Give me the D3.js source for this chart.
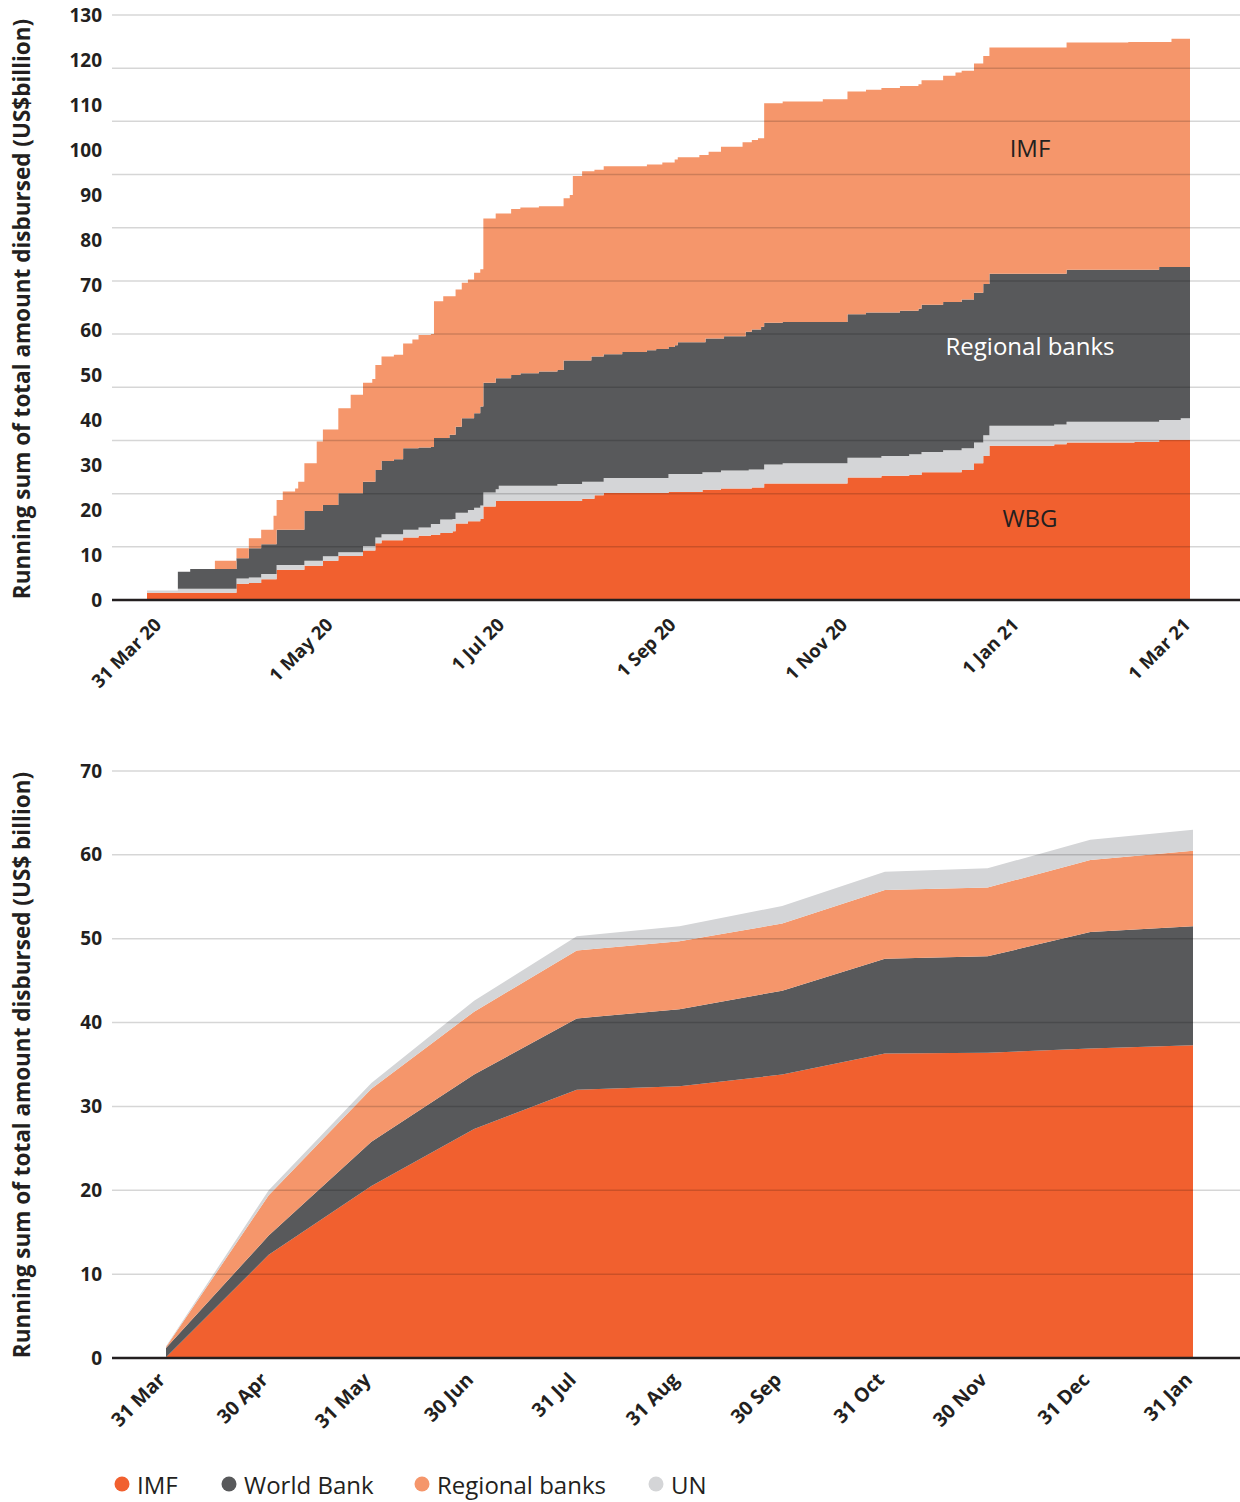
<!DOCTYPE html>
<html>
<head>
<meta charset="utf-8">
<script src="https://cdn.jsdelivr.net/npm/d3@7"></script>
<style>
  body { margin: 0; background: #fff; }
  svg { display: block; }
  text { font-family: "Open Sans", "DejaVu Sans", sans-serif; }
</style>
</head>
<body>
<svg id="chart" width="1240" height="1502"></svg>
<script>
// ---------------- DATA: top chart (running sums, US$ billion) ----------------
const topDates = [
  "2020-03-28","2020-04-07","2020-04-11","2020-04-19","2020-04-26","2020-04-30","2020-05-04","2020-05-08",
  "2020-05-09","2020-05-11","2020-05-15","2020-05-16","2020-05-18","2020-05-22","2020-05-24","2020-05-29",
  "2020-06-02","2020-06-06","2020-06-09","2020-06-10","2020-06-12","2020-06-16","2020-06-19","2020-06-22",
  "2020-06-24","2020-06-28","2020-06-29","2020-07-01","2020-07-02","2020-07-04","2020-07-05","2020-07-06",
  "2020-07-08","2020-07-10","2020-07-12","2020-07-14","2020-07-15","2020-07-19","2020-07-20","2020-07-24",
  "2020-07-27","2020-08-02","2020-08-08","2020-08-10","2020-08-12","2020-08-13","2020-08-16","2020-08-19",
  "2020-08-20","2020-08-23","2020-08-29","2020-09-06","2020-09-09","2020-09-11","2020-09-13","2020-09-15",
  "2020-09-16","2020-09-23","2020-09-24","2020-09-25","2020-09-26","2020-09-30","2020-10-01","2020-10-07",
  "2020-10-08","2020-10-09","2020-10-10","2020-10-12","2020-10-13","2020-10-14","2020-10-20","2020-11-02",
  "2020-11-10","2020-11-16","2020-11-21","2020-11-27","2020-11-30","2020-12-03","2020-12-04","2020-12-11",
  "2020-12-15","2020-12-17","2020-12-21","2020-12-24","2020-12-26","2021-01-16","2021-01-20","2021-02-09",
  "2021-02-11","2021-02-19","2021-02-23","2021-02-26","2021-03-01"
];
const topWBG = [
  1.6,1.6,1.6,1.6,3.6,3.8,4.6,4.6, 6.7,6.7,6.7,6.7,7.6,7.6,8.7,9.8,
  9.8,11.0,11.0,12.6,13.3,13.3,13.9,13.9, 14.3,14.5,14.5,14.9,14.9,14.9,15.3,17.0,
  17.0,17.5,17.5,18.0,20.8,22.0,22.0,22.0, 22.0,22.0,22.0,22.0,22.0,22.0,22.5,22.5,
  23.3,23.8,23.8,23.8,23.8,23.8,24.0,24.0, 24.0,24.0,24.5,24.5,24.5,24.8,24.8,24.8,
  24.8,24.8,25.0,25.0,25.0,25.9,25.9,25.9, 27.2,27.2,27.6,27.6,27.8,27.8,28.4,28.4,
  28.4,28.9,30.4,32.0,34.3,34.6,35.0,35.0, 35.1,35.6,35.6,35.6,35.6
];
const topUN = [
  0.5,0.9,0.9,0.9,1.2,1.2,1.2,1.2, 1.1,1.1,1.1,1.1,1.1,1.1,1.0,0.8,
  0.8,1.0,1.0,1.3,1.3,1.3,1.7,1.7, 1.8,2.4,2.4,3.0,3.0,3.0,2.7,2.4,
  2.4,2.5,3.0,3.0,3.1,2.6,3.4,3.4, 3.4,3.4,3.8,3.8,3.8,3.8,3.8,3.8,
  3.0,3.3,3.3,3.3,3.3,3.3,4.0,4.0, 4.0,4.0,3.9,3.9,3.9,4.0,4.0,4.0,
  4.0,4.2,4.0,4.0,4.0,4.2,4.5,4.5, 4.4,4.4,4.4,4.4,4.6,4.6,4.5,4.9,
  4.9,4.8,4.6,4.6,4.4,4.4,4.6,4.6, 4.5,4.4,4.4,4.8,4.8
];
const topRegional = [
  0.0,3.8,4.4,4.4,4.5,6.5,6.6,6.6, 7.8,7.8,7.8,7.8,11.1,11.1,11.4,13.1,
  13.1,14.3,14.3,15.0,16.3,16.7,18.1,18.1, 17.8,17.1,19.1,18.1,18.1,18.8,18.7,19.1,
  21.0,20.4,21.0,22.0,24.4,24.7,23.9,24.6, 25.0,25.4,25.3,27.4,27.4,27.4,26.9,27.8,
  27.8,27.5,28.0,28.4,28.7,28.7,28.2,28.6, 29.3,29.3,28.9,29.7,29.7,29.3,29.8,29.8,
  30.8,30.6,31.1,31.1,31.7,31.5,31.4,31.4, 31.9,32.3,31.9,32.3,31.9,32.3,32.7,32.9,
  32.9,33.1,33.3,33.6,33.8,33.5,33.8,33.8, 33.8,34.0,34.0,33.6,33.6
];
const topIMF = [
  0.0,0.0,0.0,1.8,2.2,2.2,3.2,6.3, 6.6,8.5,9.2,10.7,10.6,15.4,16.8,18.9,
  21.9,22.0,22.8,23.3,23.2,23.2,23.3,24.2, 25.0,25.1,30.4,30.4,31.5,30.8,30.8,30.5,
  30.1,30.8,31.2,30.5,36.5,36.6,36.6,36.9, 36.8,36.7,36.4,36.1,36.8,41.0,42.1,41.2,
  41.5,41.8,41.3,41.3,41.0,41.4,41.0,41.3, 41.1,41.6,41.6,40.8,41.5,42.6,42.1,43.1,
  42.1,42.1,42.1,42.5,41.9,48.8,49.0,49.5, 49.5,49.5,49.9,49.9,49.9,49.9,49.9,50.3,
  51.0,50.8,50.9,50.7,50.3,50.3,50.5,50.6, 50.6,50.0,50.7,50.7,50.7
];
const topSeriesNames = ["WBG", "UN", "Regional banks", "IMF"];
const topXTickLabels = ["31 Mar 20","1 May 20","1 Jul 20","1 Sep 20","1 Nov 20","1 Jan 21","1 Mar 21"];
const topYTicks = [0,10,20,30,40,50,60,70,80,90,100,110,120,130];
const topTitle = "Running sum of total amount disbursed (US$billion)";

// ---------------- DATA: bottom chart ----------------
const bottomMonths = ["31 Mar","30 Apr","31 May","30 Jun","31 Jul","31 Aug","30 Sep","31 Oct","30 Nov","31 Dec","31 Jan"];
const bottomIMF      = [0.1, 12.3, 20.5, 27.3, 32.0, 32.4, 33.8, 36.3, 36.4, 36.9, 37.3];
const bottomWorldBank= [1.1,  2.3,  5.3,  6.5,  8.5,  9.2, 10.0, 11.3, 11.5, 13.9, 14.2];
const bottomRegional = [0.1,  4.8,  6.3,  7.5,  8.1,  8.1,  8.0,  8.2,  8.2,  8.6,  9.0];
const bottomUN       = [0.1,  0.6,  0.7,  1.3,  1.7,  1.8,  2.1,  2.2,  2.3,  2.4,  2.5];
const bottomSeriesNames = ["IMF", "World Bank", "Regional banks", "UN"];
const bottomYTicks = [0,10,20,30,40,50,60,70];
const bottomTitle = "Running sum of total amount disbursed (US$ billion)";

// ---------------- STYLE ----------------
const C = { red: "#F1602F", dark: "#58595B", peach: "#F5966B", light: "#D4D5D7", text: "#231F20" };
const svg = d3.select("#chart");
const parse = d3.utcParse("%Y-%m-%d");

// ================= TOP CHART =================
const topRows = topDates.map((d, i) => ({
  date: parse(d), WBG: topWBG[i], UN: topUN[i], "Regional banks": topRegional[i], IMF: topIMF[i]
}));
const xTop = d3.scaleUtc().domain([parse("2020-03-28"), parse("2021-03-01")]).range([147, 1190]);
const yTop = d3.scaleLinear().domain([0, 130]).range([600, 15]);
const topColors = { "WBG": C.red, "UN": C.light, "Regional banks": C.dark, "IMF": C.peach };
const topStack = d3.stack().keys(topSeriesNames)(topRows);
const topArea = d3.area().curve(d3.curveStepAfter)
  .x(d => xTop(d.data.date)).y0(d => yTop(d[0])).y1(d => yTop(d[1]));

const gTop = svg.append("g");
gTop.selectAll("path.layer").data(topStack).join("path")
  .attr("class", "layer").attr("fill", d => topColors[d.key]).attr("d", topArea);

// gridlines (11 equal divisions of the 0-130 range, as in the source)
const topGrid = d3.range(1, 12).map(k => k * 130 / 11);
gTop.selectAll("line.grid").data(topGrid).join("line")
  .attr("class", "grid").attr("x1", 112).attr("x2", 1240)
  .attr("y1", d => yTop(d)).attr("y2", d => yTop(d))
  .attr("stroke", "#000").attr("stroke-opacity", 0.16).attr("stroke-width", 1.5);

gTop.append("line").attr("x1", 112).attr("x2", 1240).attr("y1", yTop(0)).attr("y2", yTop(0))
  .attr("stroke", C.text).attr("stroke-width", 2.5);

// y axis labels
const yAxisTop = gTop.append("g").attr("transform", "translate(102,0)")
  .call(d3.axisLeft(yTop).tickValues(topYTicks).tickSize(0).tickPadding(0));
yAxisTop.select(".domain").remove();
yAxisTop.selectAll("text").attr("font-size", 19).attr("font-weight", 700).attr("fill", C.text)
  .attr("font-family", "'Open Sans', sans-serif");

// x axis labels
const xLabTop = d3.scalePoint().domain(topXTickLabels).range([162, 1191]);
const xAxisTop = gTop.append("g").attr("transform", "translate(0,626)")
  .call(d3.axisBottom(xLabTop).tickSize(0));
xAxisTop.select(".domain").remove();
xAxisTop.selectAll("text").attr("y", 0).attr("x", 0).attr("dy", 0)
  .attr("text-anchor", "end").attr("transform", "rotate(-45)")
  .attr("font-size", 18.5).attr("font-weight", 700).attr("fill", C.text)
  .attr("font-family", "'Open Sans', sans-serif");

// y title
gTop.append("text").attr("transform", "translate(30,309) rotate(-90)")
  .attr("text-anchor", "middle").attr("font-size", 22.5).attr("font-weight", 700).attr("fill", C.text)
  .text(topTitle);

// in-chart series labels
const topLabelPos = [
  { name: "IMF", v: 100.5, fill: C.text },
  { name: "Regional banks", v: 56.5, fill: "#ffffff" },
  { name: "WBG", v: 18.4, fill: C.text }
];
gTop.selectAll("text.serieslab").data(topLabelPos).join("text")
  .attr("class", "serieslab").attr("x", 1030).attr("y", d => yTop(d.v))
  .attr("text-anchor", "middle").attr("dominant-baseline", "central")
  .attr("font-size", 24).attr("fill", d => d.fill).text(d => d.name);

// ================= BOTTOM CHART =================
const botRows = bottomMonths.map((m, i) => ({
  month: m, "IMF": bottomIMF[i], "World Bank": bottomWorldBank[i],
  "Regional banks": bottomRegional[i], "UN": bottomUN[i]
}));
const xBot = d3.scalePoint().domain(bottomMonths).range([166, 1193]);
const yBot = d3.scaleLinear().domain([0, 70]).range([1358, 771]);
const botColors = { "IMF": C.red, "World Bank": C.dark, "Regional banks": C.peach, "UN": C.light };
const botStack = d3.stack().keys(bottomSeriesNames)(botRows);
const botArea = d3.area().x(d => xBot(d.data.month)).y0(d => yBot(d[0])).y1(d => yBot(d[1]));

const gBot = svg.append("g");
gBot.selectAll("path.layer").data(botStack).join("path")
  .attr("class", "layer").attr("fill", d => botColors[d.key]).attr("d", botArea);

gBot.selectAll("line.grid").data(bottomYTicks.filter(v => v > 0)).join("line")
  .attr("class", "grid").attr("x1", 112).attr("x2", 1240)
  .attr("y1", d => yBot(d)).attr("y2", d => yBot(d))
  .attr("stroke", "#000").attr("stroke-opacity", 0.16).attr("stroke-width", 1.5);

gBot.append("line").attr("x1", 112).attr("x2", 1240).attr("y1", yBot(0)).attr("y2", yBot(0))
  .attr("stroke", C.text).attr("stroke-width", 2.5);

const yAxisBot = gBot.append("g").attr("transform", "translate(102,0)")
  .call(d3.axisLeft(yBot).tickValues(bottomYTicks).tickSize(0).tickPadding(0));
yAxisBot.select(".domain").remove();
yAxisBot.selectAll("text").attr("font-size", 19).attr("font-weight", 700).attr("fill", C.text)
  .attr("font-family", "'Open Sans', sans-serif");

const xAxisBot = gBot.append("g").attr("transform", "translate(0,1381)")
  .call(d3.axisBottom(xBot).tickSize(0));
xAxisBot.select(".domain").remove();
xAxisBot.selectAll("text").attr("y", 0).attr("x", 0).attr("dy", 0)
  .attr("text-anchor", "end").attr("transform", "rotate(-45)")
  .attr("font-size", 19.5).attr("font-weight", 700).attr("fill", C.text)
  .attr("font-family", "'Open Sans', sans-serif");

gBot.append("text").attr("transform", "translate(30,1065) rotate(-90)")
  .attr("text-anchor", "middle").attr("font-size", 22.5).attr("font-weight", 700).attr("fill", C.text)
  .text(bottomTitle);

// legend
const legendX = [122, 229, 422, 656];
const gLeg = svg.append("g");
const items = gLeg.selectAll("g").data(bottomSeriesNames).join("g")
  .attr("transform", (d, i) => `translate(${legendX[i]},1484)`);
items.append("circle").attr("r", 7.5).attr("fill", d => botColors[d]);
items.append("text").attr("x", 15).attr("dominant-baseline", "central")
  .attr("font-size", 24).attr("fill", C.text).text(d => d);
</script>
</body>
</html>
